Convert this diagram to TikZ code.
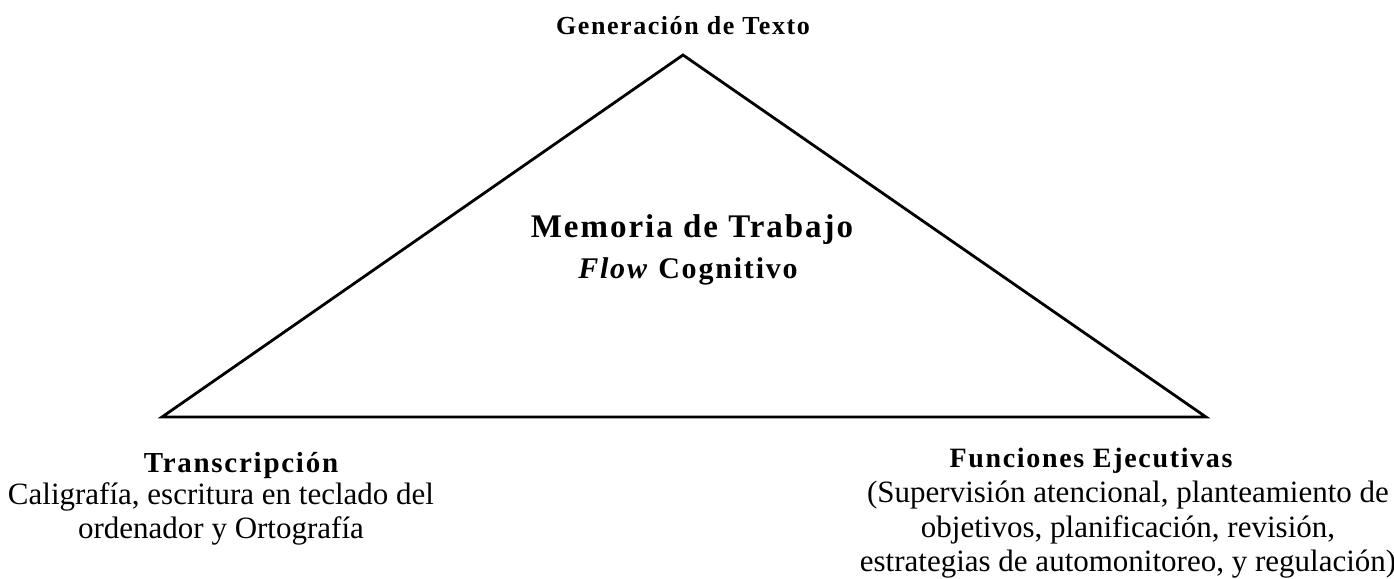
\documentclass[tikz,border=0pt]{standalone}
\usepackage{fontspec}
\setmainfont{Liberation Serif}
\newfontfamily\ttl{Liberation Serif}[LetterSpace=6]
\begin{document}
\begin{tikzpicture}[x=1pt,y=-1pt,
  body/.style={font=\fontsize{31}{33}\selectfont, inner sep=0pt, anchor=base},
  ttlbox/.style={font=\ttl\bfseries\fontsize{27}{33}\selectfont, inner sep=0pt, anchor=base},
  tri/.style={draw=black, line width=2.8pt, line join=miter}]
\useasboundingbox (0,0) rectangle (1394,578);
\coordinate (A) at (683,55);
\coordinate (L) at (162,417);
\coordinate (R) at (1206,417);
\draw[tri] (A) -- (L) -- (R) -- cycle;
\node[ttlbox, font=\ttl\bfseries\fontsize{26}{33}\selectfont] (top) at (683,35) {Generación de Texto};
\node[ttlbox, font=\ttl\bfseries\fontsize{33}{33}\selectfont] (mem) at (692,237) {Memoria de Trabajo};
\node[ttlbox, font=\ttl\bfseries\fontsize{30}{33}\selectfont] (flow) at (688,278) {\textit{Flow} Cognitivo};
\node[ttlbox, font=\ttl\bfseries\fontsize{29}{33}\selectfont] (tr) at (241,472) {Transcripción};
\node[body] (trb1) at (221,504) {Caligrafía, escritura en teclado del};
\node[body] (trb2) at (221,538) {ordenador y Ortografía};
\node[ttlbox, font=\ttl\bfseries\fontsize{28}{33}\selectfont] (fe) at (1091,467) {Funciones Ejecutivas};
\node[body] (fe1) at (1128,502) {(Supervisión atencional, planteamiento de};
\node[body] (fe2) at (1128,537) {objetivos, planificación, revisión,};
\node[body] (fe3) at (1128,571) {estrategias de automonitoreo, y regulación)};
\end{tikzpicture}
\end{document}
